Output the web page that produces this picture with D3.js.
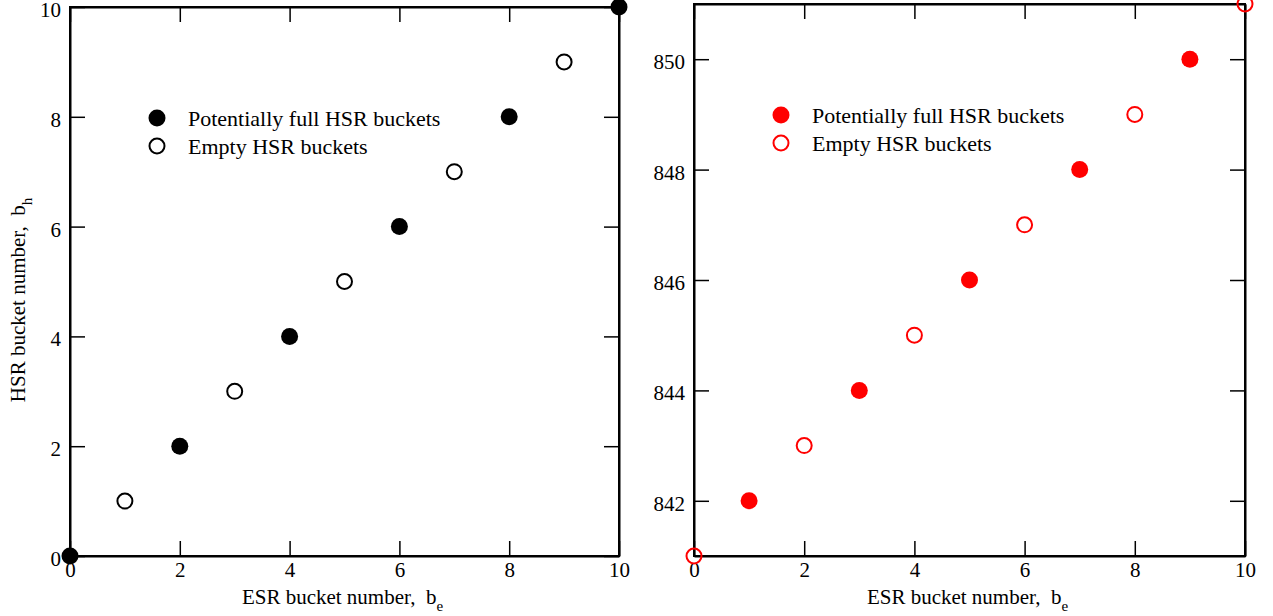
<!DOCTYPE html>
<html><head><meta charset="utf-8">
<script src="https://cdn.jsdelivr.net/npm/d3@7"></script>
<style>body{margin:0;background:#fff;} svg{display:block;} svg text{font-family:"Liberation Serif",Tinos,"Times New Roman",Times,serif !important;}</style>
</head><body>
<svg id="c" width="1273" height="616"></svg>
<script>
// Data
const leftFullX = [0, 2, 4, 6, 8, 10];
const leftFullY = [0, 2, 4, 6, 8, 10];
const leftEmptyX = [1, 3, 5, 7, 9];
const leftEmptyY = [1, 3, 5, 7, 9];
const rightFullX = [1, 3, 5, 7, 9];
const rightFullY = [842, 844, 846, 848, 850];
const rightEmptyX = [0, 2, 4, 6, 8, 10];
const rightEmptyY = [841, 843, 845, 847, 849, 851];
const xTicks = [0, 2, 4, 6, 8, 10];
const leftYTicks = [0, 2, 4, 6, 8, 10];
const rightYTicks = [842, 844, 846, 848, 850];
const legendLabels = ["Potentially full HSR buckets", "Empty HSR buckets"];

const FONT = '"Liberation Serif",Tinos,"Times New Roman",Times,serif';
const svg = d3.select("#c");

function panel(o) {
  const g = svg.append("g").attr("font-family", FONT);
  const x = d3.scaleLinear().domain([0, 10]).range([o.x0, o.x1]);
  const y = d3.scaleLinear().domain(o.ydom).range([o.y1, o.y0]);
  const tl = 15;
  const ax = [
    d3.axisBottom(x).tickValues(xTicks).tickSizeInner(-tl).tickSizeOuter(0).tickPadding(6),
    d3.axisTop(x).tickValues(xTicks).tickSizeInner(-tl).tickSizeOuter(0).tickFormat(""),
    d3.axisLeft(y).tickValues(o.yticks).tickSizeInner(-tl).tickSizeOuter(0).tickPadding(9),
    d3.axisRight(y).tickValues(o.yticks).tickSizeInner(-tl).tickSizeOuter(0).tickFormat("")
  ];
  const tr = [`translate(0,${o.y1})`, `translate(0,${o.y0})`, `translate(${o.x0},0)`, `translate(${o.x1},0)`];
  ax.forEach((a, i) => {
    const ag = g.append("g").attr("transform", tr[i]).call(a).attr("font-family", FONT);
    ag.selectAll("path").attr("stroke", "#000").attr("stroke-width", 2);
    ag.selectAll("line").attr("stroke", "#000").attr("stroke-width", 1.5);
    ag.selectAll("text").attr("font-size", 21).attr("fill", "#000").style("font-family", FONT);
    if (i === 2) ag.selectAll("text").attr("dy", "0.45em");
  });
  g.append("rect").attr("x", o.x0).attr("y", o.y0).attr("width", o.x1 - o.x0).attr("height", o.y1 - o.y0)
    .attr("fill", "none").attr("stroke", "#000").attr("stroke-width", 2);
  g.selectAll(".f").data(o.fx.map((d, i) => [d, o.fy[i]])).enter().append("circle")
    .attr("cx", d => x(d[0])).attr("cy", d => y(d[1])).attr("r", 8.5).attr("fill", o.color);
  g.selectAll(".e").data(o.ex.map((d, i) => [d, o.ey[i]])).enter().append("circle")
    .attr("cx", d => x(d[0])).attr("cy", d => y(d[1])).attr("r", 7.5)
    .attr("fill", "none").attr("stroke", o.color).attr("stroke-width", 2);
  legendLabels.forEach((lab, i) => {
    const ly = o.ly + i * 28;
    const c = g.append("circle").attr("cx", o.lx).attr("cy", ly);
    if (i === 0) c.attr("r", 8.5).attr("fill", o.color);
    else c.attr("r", 7.5).attr("fill", "none").attr("stroke", o.color).attr("stroke-width", 2);
    g.append("text").attr("x", o.lx + 31).attr("y", ly + 8).attr("font-size", 22).style("font-family", FONT).text(lab);
  });
  const xt = g.append("text").attr("x", (o.x0 + o.x1) / 2 - 2).attr("y", 604)
    .attr("text-anchor", "middle").attr("font-size", 21).style("font-family", FONT);
  xt.append("tspan").text("ESR bucket number,\u00a0\u00a0b");
  xt.append("tspan").attr("dy", 7).attr("font-size", 15).text("e");
  if (o.ytitle) {
    const yt = g.append("text").attr("transform", `translate(25,300) rotate(-90)`)
      .attr("text-anchor", "middle").attr("font-size", 21).style("font-family", FONT);
    yt.append("tspan").text("HSR bucket number,\u00a0\u00a0b");
    yt.append("tspan").attr("dy", 7).attr("font-size", 15).text("h");
  }
}

panel({x0: 70, x1: 619, y0: 7, y1: 556, ydom: [0, 10], yticks: leftYTicks,
  fx: leftFullX, fy: leftFullY, ex: leftEmptyX, ey: leftEmptyY, color: "#000",
  lx: 157, ly: 118, ytitle: true});
panel({x0: 694, x1: 1245, y0: 4, y1: 556, ydom: [841, 851], yticks: rightYTicks,
  fx: rightFullX, fy: rightFullY, ex: rightEmptyX, ey: rightEmptyY, color: "#ff0000",
  lx: 781, ly: 115, ytitle: false});
</script>
</body></html>
